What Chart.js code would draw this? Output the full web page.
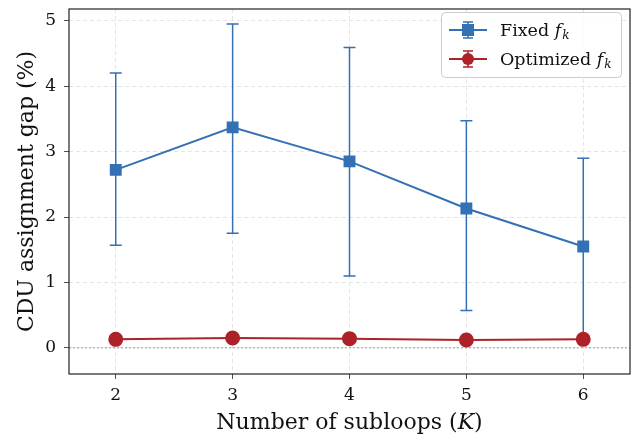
<!DOCTYPE html>
<html>
<head>
<meta charset="utf-8">
<script src="https://cdn.jsdelivr.net/npm/chart.js@4"></script>
<style>
  body { margin: 0; background: #fff; }
  #wrap { width: 642px; height: 440px; }
</style>
</head>
<body>
<div id="wrap"><canvas id="graficoGap" width="642" height="440"></canvas></div>
<script>
// Datos
const subloops = [2, 3, 4, 5, 6];
const fixedGap  = [2.72, 3.37, 2.85, 2.13, 1.55];
const fixedLow  = [1.57, 1.75, 1.10, 0.57, 0.18];
const fixedHigh = [4.20, 4.95, 4.59, 3.47, 2.90];
const optGap  = [0.13, 0.15, 0.14, 0.12, 0.13];
const optLow  = [0.10, 0.12, 0.11, 0.09, 0.10];
const optHigh = [0.16, 0.18, 0.17, 0.15, 0.16];
const yTicks = [0, 1, 2, 3, 4, 5];

const azul = '#3470b4';
const rojo = '#ad2229';
const fuente = '"DejaVu Serif", serif';

function puntos(ys) {
  return subloops.map((x, i) => ({ x: x, y: ys[i] }));
}

// barras de error (se dibujan debajo de cada serie)
const barrasError = {
  id: 'barrasError',
  beforeDatasetDraw(chart, args) {
    const ds = chart.data.datasets[args.index];
    if (!ds.errLow) return;
    const ctx = chart.ctx;
    const xs = chart.scales.x, ys = chart.scales.y;
    ctx.save();
    ctx.strokeStyle = ds.borderColor;
    ctx.lineWidth = 1.5;
    subloops.forEach((k, i) => {
      const px = xs.getPixelForValue(k);
      const lo = ys.getPixelForValue(ds.errLow[i]);
      const hi = ys.getPixelForValue(ds.errHigh[i]);
      ctx.beginPath();
      ctx.moveTo(px, lo); ctx.lineTo(px, hi);
      ctx.moveTo(px - 6, lo); ctx.lineTo(px + 6, lo);
      ctx.moveTo(px - 6, hi); ctx.lineTo(px + 6, hi);
      ctx.stroke();
    });
    ctx.restore();
  },
  beforeDatasetsDraw(chart) {
    // linea punteada en cero
    const ctx = chart.ctx, a = chart.chartArea;
    const y0 = chart.scales.y.getPixelForValue(0);
    ctx.save();
    ctx.strokeStyle = '#999';
    ctx.lineWidth = 1;
    ctx.setLineDash([2, 2]);
    ctx.beginPath();
    ctx.moveTo(a.left, y0); ctx.lineTo(a.right, y0);
    ctx.stroke();
    ctx.restore();
  },
  afterDraw(chart) {
    const ctx = chart.ctx, a = chart.chartArea;
    ctx.save();
    // marco
    ctx.strokeStyle = '#222';
    ctx.lineWidth = 1.2;
    ctx.strokeRect(a.left, a.top, a.right - a.left, a.bottom - a.top);

    // titulo eje x con K en cursiva
    ctx.fillStyle = '#111';
    ctx.textBaseline = 'alphabetic';
    const partes = [['Number of subloops (', ''], ['K', 'italic '], [')', '']];
    let total = 0;
    partes.forEach(p => { ctx.font = p[1] + '22px ' + fuente; total += ctx.measureText(p[0]).width; });
    let x = (a.left + a.right) / 2 - total / 2;
    partes.forEach(p => {
      ctx.font = p[1] + '22px ' + fuente;
      ctx.fillText(p[0], x, 429);
      x += ctx.measureText(p[0]).width;
    });

    // titulo eje y
    ctx.save();
    ctx.translate(33, (a.top + a.bottom) / 2);
    ctx.rotate(-Math.PI / 2);
    ctx.font = '22px ' + fuente;
    ctx.textAlign = 'center';
    ctx.fillText('CDU assignment gap (%)', 0, 0);
    ctx.restore();

    // leyenda
    const lx = 441, ly = 12, lw = 180, lh = 65;
    ctx.fillStyle = 'rgba(255,255,255,0.85)';
    ctx.strokeStyle = '#ccc';
    ctx.lineWidth = 1;
    ctx.beginPath();
    ctx.roundRect(lx + 0.5, ly + 0.5, lw, lh, 4);
    ctx.fill(); ctx.stroke();

    const filas = [
      { txt: 'Fixed ', color: azul, forma: 'cuadro', y: 30 },
      { txt: 'Optimized ', color: rojo, forma: 'circulo', y: 59 }
    ];
    filas.forEach(f => {
      ctx.strokeStyle = f.color;
      ctx.fillStyle = f.color;
      ctx.lineWidth = 2;
      ctx.beginPath();
      ctx.moveTo(449, f.y); ctx.lineTo(487, f.y);
      ctx.stroke();
      ctx.lineWidth = 1.5;
      ctx.beginPath();
      ctx.moveTo(468, f.y - 8); ctx.lineTo(468, f.y + 8);
      ctx.moveTo(463, f.y - 8); ctx.lineTo(473, f.y - 8);
      ctx.moveTo(463, f.y + 8); ctx.lineTo(473, f.y + 8);
      ctx.stroke();
      ctx.beginPath();
      if (f.forma === 'cuadro') ctx.rect(462, f.y - 6, 12, 12);
      else ctx.arc(468, f.y, 6, 0, Math.PI * 2);
      ctx.fill();

      ctx.fillStyle = '#111';
      ctx.font = '17.5px ' + fuente;
      let tx = 500;
      ctx.fillText(f.txt, tx, f.y + 6);
      tx += ctx.measureText(f.txt).width;
      ctx.font = 'italic 17.5px ' + fuente;
      ctx.fillText('f', tx, f.y + 6);
      tx += ctx.measureText('f').width + 1;
      ctx.font = 'italic 12px ' + fuente;
      ctx.fillText('k', tx, f.y + 9);
    });
    ctx.restore();
  }
};

const ctx = document.getElementById('graficoGap').getContext('2d');

const grafico = new Chart(ctx, {
  type: 'line',
  data: {
    datasets: [
      {
        label: 'Fixed f_k',
        data: puntos(fixedGap),
        errLow: fixedLow,
        errHigh: fixedHigh,
        borderColor: azul,
        backgroundColor: azul,
        borderWidth: 2,
        pointStyle: 'rect',
        pointRadius: 7,
        pointHoverRadius: 7,
        order: 2
      },
      {
        label: 'Optimized f_k',
        data: puntos(optGap),
        errLow: optLow,
        errHigh: optHigh,
        borderColor: rojo,
        backgroundColor: rojo,
        borderWidth: 2,
        pointStyle: 'circle',
        pointRadius: 6.5,
        pointHoverRadius: 6.5,
        order: 1
      }
    ]
  },
  options: {
    responsive: false,
    animation: false,
    layout: { padding: { top: -4, right: 12, left: 0, bottom: 0 } },
    plugins: {
      legend: { display: false },
      tooltip: { enabled: false }
    },
    scales: {
      x: {
        type: 'linear',
        min: 1.6,
        max: 6.4,
        afterFit(s) { s.height = 66; s.paddingLeft = 0; s.paddingRight = 0; },
        afterBuildTicks(s) { s.ticks = subloops.map(v => ({ value: v })); },
        grid: {
          color: '#dedede',
          tickColor: '#222',
          tickLength: 5,
          tickBorderDash: [],
          lineWidth: 0.8
        },
        border: { display: false, dash: [4, 3] },
        ticks: {
          color: '#111',
          padding: 6,
          autoSkip: false,
          maxRotation: 0,
          font: { family: fuente, size: 17 }
        }
      },
      y: {
        min: -0.4,
        max: 5.18,
        afterFit(s) { s.width = 69; s.paddingTop = 0; s.paddingBottom = 0; },
        afterBuildTicks(s) { s.ticks = yTicks.map(v => ({ value: v })); },
        grid: {
          color: '#dedede',
          tickColor: '#222',
          tickLength: 5,
          tickBorderDash: [],
          lineWidth: 0.8
        },
        border: { display: false, dash: [4, 3] },
        ticks: {
          color: '#111',
          padding: 8,
          autoSkip: false,
          font: { family: fuente, size: 17 }
        }
      }
    }
  },
  plugins: [barrasError]
});
</script>
</body>
</html>
